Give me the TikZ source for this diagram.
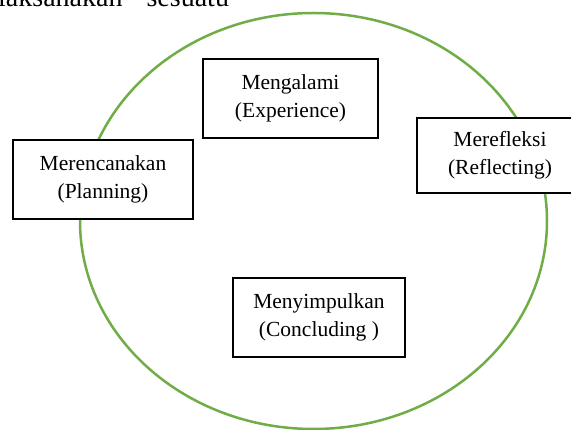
\documentclass[tikz,border=0pt]{standalone}
\usepackage{fontspec}
\setmainfont{Liberation Serif}
\usetikzlibrary{shapes.geometric}
\definecolor{cyclegreen}{RGB}{112,173,71}
\begin{document}
\begin{tikzpicture}[x=1pt,y=-1pt,
  stagebox/.style={draw=black, line width=1.3pt, fill=white, align=center,
    font=\fontsize{21.5}{27.5}\selectfont, inner sep=0pt},
  ringline/.style={draw=cyclegreen, line width=2.5pt}]
\useasboundingbox (0,0) rectangle (571,430);
\fill[white] (0,0) rectangle (571,430);
% cut-off text line at the top
\node[anchor=base west, inner sep=0pt, font=\fontsize{28}{28}\selectfont] (toptext) at (-2,7) {laksanakan\hspace{24pt}sesuatu};
% cycle
\node[ringline, ellipse, minimum width=467pt, minimum height=416pt, inner sep=0pt] (ring) at (313.5,221) {};
% stages
\node[stagebox, minimum width=175pt, minimum height=79pt] (exp) at (290.5,98.5) {Mengalami\\(Experience)};
\node[stagebox, minimum width=166pt, minimum height=75pt] (refl) at (500,155.5) {Merefleksi\\(Reflecting)};
\node[stagebox, minimum width=180pt, minimum height=79pt] (plan) at (103,179.5) {Merencanakan\\(Planning)};
\node[stagebox, minimum width=172pt, minimum height=79pt] (concl) at (319,317.5) {Menyimpulkan\\(Concluding )};
\end{tikzpicture}
\end{document}
